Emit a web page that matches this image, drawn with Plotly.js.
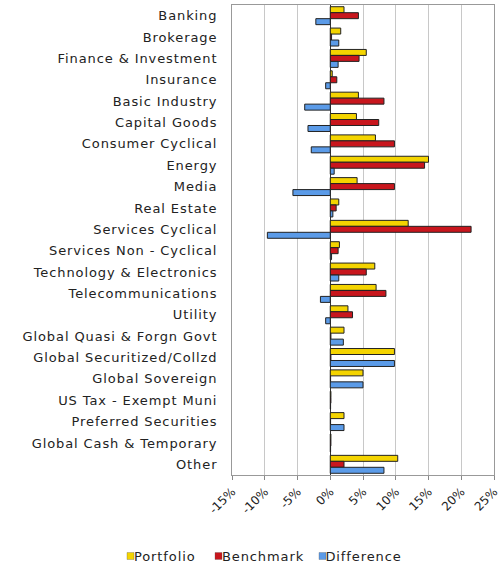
<!DOCTYPE html>
<html>
<head>
<meta charset="utf-8">
<script src="https://cdn.plot.ly/plotly-3.0.1.min.js"></script>
<style>
html,body{margin:0;padding:0;background:#fff;}
#chart{width:501px;height:568px;}
#chart .ytick text{letter-spacing:0.9px;}
#chart .annotation-text{letter-spacing:0.9px;}
</style>
</head>
<body>
<div id="chart"></div>
<script>
const categories = ["Banking","Brokerage","Finance & Investment","Insurance","Basic Industry","Capital Goods","Consumer Cyclical","Energy","Media","Real Estate","Services Cyclical","Services Non - Cyclical","Technology & Electronics","Telecommunications","Utility","Global Quasi & Forgn Govt","Global Securitized/Collzd","Global Sovereign","US Tax - Exempt Muni","Preferred Securities","Global Cash & Temporary","Other"];
const portfolio = [2.1,1.6,5.5,0.3,4.3,4.0,6.9,15.0,4.1,1.3,11.9,1.4,6.8,7.0,2.7,2.1,9.8,5.0,0.1,2.1,0.1,10.3];
const benchmark = [4.3,0.2,4.4,1.0,8.2,7.4,9.8,14.4,9.8,0.9,21.5,1.2,5.5,8.5,3.4,0.1,0.1,0.05,0.1,0.05,0.1,2.1];
const difference = [-2.2,1.3,1.2,-0.7,-3.9,-3.4,-2.9,0.6,-5.7,0.4,-9.6,0.2,1.3,-1.5,-0.7,2.0,9.8,5.0,0.05,2.1,0.05,8.2];
const seriesNames = ["Portfolio","Benchmark","Difference"];
const seriesColors = ["#F4D400","#C8161D","#5B9BE8"];
const xTicks = [-15,-10,-5,0,5,10,15,20,25];
const xTickText = ["-15%","-10%","-5%","0%","5%","10%","15%","20%","25%"];

const values = [portfolio, benchmark, difference];
const data = seriesNames.map((name, i) => ({
  type: 'bar', orientation: 'h', name: name, x: values[i], y: categories,
  marker: {color: seriesColors[i], line: {color: '#222', width: 1}},
  showlegend: false
}));

// manual legend (pixel positions converted to paper coords)
const plotL = 232, plotR = 494, plotT = 5, plotB = 475;
const px = v => (v - plotL) / (plotR - plotL);
const py = v => (plotB - v) / (plotB - plotT);
const legSquareX = [127, 215, 319];
const legTextX = [136, 224, 328];
const legY = 556;
const shapes = seriesNames.map((n, i) => ({
  type: 'rect', xref: 'paper', yref: 'paper',
  x0: px(legSquareX[i]), x1: px(legSquareX[i] + 7),
  y0: py(legY + 3.5), y1: py(legY - 3.5),
  fillcolor: seriesColors[i], line: {color: 'rgba(80,80,80,0.6)', width: 0.5}
}));
const annotations = seriesNames.map((n, i) => ({
  text: n, xref: 'paper', yref: 'paper', x: px(legTextX[i]), y: py(legY),
  xanchor: 'left', yanchor: 'middle', showarrow: false,
  font: {size: 13, color: '#222'}
}));

const layout = {
  width: 501, height: 568,
  margin: {l: 232, r: 7, t: 5, b: 93},
  paper_bgcolor: '#fff', plot_bgcolor: '#fff',
  barmode: 'group', bargap: 0.16, bargroupgap: 0,
  font: {family: 'DejaVu Sans, Verdana, sans-serif', size: 12, color: '#222'},
  showlegend: false,
  shapes: shapes, annotations: annotations,
  xaxis: {range: [-15, 25], tickvals: xTicks, ticktext: xTickText, tickangle: -45,
          showgrid: true, gridcolor: '#c8c8c8', gridwidth: 1,
          zeroline: true, zerolinecolor: '#333', zerolinewidth: 1,
          showline: true, linecolor: '#999', mirror: true,
          ticks: 'outside', ticklen: 4, tickcolor: '#888',
          tickfont: {size: 12, color: '#222'}, fixedrange: true},
  yaxis: {autorange: 'reversed', type: 'category', showgrid: false,
          showline: true, linecolor: '#999', mirror: true,
          ticks: '', ticklabelstandoff: 11,
          tickfont: {size: 13, color: '#222'}, fixedrange: true}
};
Plotly.newPlot('chart', data, layout, {displayModeBar: false, staticPlot: true});
</script>
</body>
</html>
